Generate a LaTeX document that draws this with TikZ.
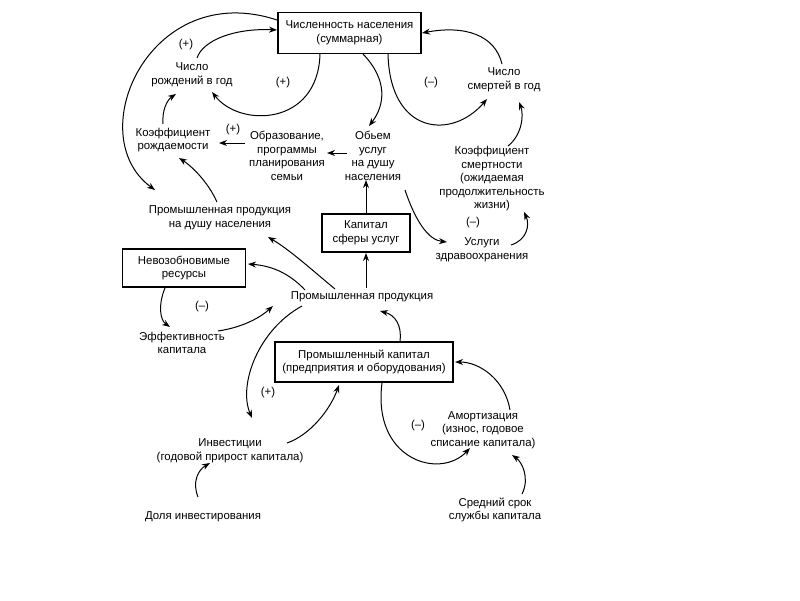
\documentclass[tikz,border=0pt]{standalone}
\usepackage{fontspec}
\setmainfont{Liberation Sans}
\usetikzlibrary{calc,arrows.meta}
\begin{document}
\begin{tikzpicture}[x=1pt,y=-1pt,
  txt/.style={align=center,font=\fontsize{11.4}{13.5}\selectfont,inner sep=1pt},
  boxn/.style={txt,draw,line width=1.2pt,inner sep=0pt},
  arr/.style={line width=1pt,-{Stealth[length=8pt,width=6pt]}},
  sign/.style={font=\fontsize{11.4}{13}\selectfont,inner sep=0pt}]
\useasboundingbox[fill=white] (0,0) rectangle (800,600);

% nodes
\node[boxn,minimum width=143pt,minimum height=41pt] (pop) at (349.5,33) {Численность населения\\(суммарная)};
\node[txt] (births) at (192,75) {Число\\рождений в год};
\node[txt] (deaths) at (504,80) {Число\\смертей в год};
\node[txt] (bcoef) at (173,140) {Коэффициент\\рождаемости};
\node[txt] (educ) at (287,156) {Образование,\\программы\\планирования\\семьи};
\node[txt] (serv) at (373,156) {Обьем\\услуг\\на душу\\населения};
\node[txt] (dcoef) at (492,179) {Коэффициент\\смертности\\(ожидаемая\\продолжительность\\жизни)};
\node[txt] (prodpc) at (220,218) {Промышленная продукция\\на душу населения};
\node[boxn,minimum width=88pt,minimum height=38pt] (capserv) at (366,233) {Капитал\\сферы услуг};
\node[txt] (health) at (482,250) {Услуги\\здравоохранения};
\node[boxn,minimum width=123pt,minimum height=38pt] (nonren) at (184,268) {Невозобновимые\\ресурсы};
\node[txt] (prod) at (362,297) {Промышленная продукция};
\node[txt] (eff) at (182,343) {Эффективность\\капитала};
\node[boxn,minimum width=178pt,minimum height=40pt] (capind) at (364,362) {Промышленный капитал\\(предприятия и оборудования)};
\node[txt] (amort) at (483,430) {Амортизация\\(износ, годовое\\списание капитала)};
\node[txt] (invest) at (230,451) {Инвестиции\\(годовой прирост капитала)};
\node[txt] (share) at (203,517) {Доля инвестирования};
\node[txt] (life) at (495,510) {Средний срок\\службы капитала};

% signs
\node[sign] (s1) at (186,45) {(+)};
\node[sign] (s2) at (283,83) {(+)};
\node[sign] (s3) at (431,83) {(--)};
\node[sign] (s4) at (233,130) {(+)};
\node[sign] (s5) at (473,223) {(--)};
\node[sign] (s6) at (202,307) {(--)};
\node[sign] (s7) at (268,393) {(+)};
\node[sign] (s8) at (418,426) {(--)};

% connectors
\draw[arr] ($(births)+(5,-17)$) .. controls (203,40) and (235,28) .. ($(pop)+(-72.5,-3)$);
\draw[arr] ($(pop)+(-29.5,21)$) .. controls (318,126) and (240,128) .. ($(births)+(20,17)$);
\draw[arr] ($(pop)+(13.5,21)$) .. controls (388,80) and (385,105) .. ($(serv)+(-4,-30)$);
\draw[arr] ($(pop)+(38.5,21)$) .. controls (390,135) and (452,140) .. ($(deaths)+(-17,19)$);
\draw[arr] ($(deaths)+(-2,-16)$) .. controls (495,35) and (465,25) .. ($(pop)+(72.5,0)$);
\draw[arr] ($(dcoef)+(16,-33)$) .. controls (522,135) and (524,115) .. ($(deaths)+(15,22)$);
\draw[arr] ($(pop)+(-72.5,-13)$) .. controls (150,-22) and (80,135) .. ($(prodpc)+(-65,-28)$);
\draw[arr] ($(bcoef)+(-10,-16)$) .. controls (162,110) and (167,100) .. ($(births)+(-16,19)$);
\draw[arr] ($(educ)+(-42,-13)$) -- ($(bcoef)+(46,3)$);
\draw[arr] ($(serv)+(-26,-3)$) -- ($(educ)+(40,-3)$);
\draw[arr] ($(prodpc)+(-3,-16)$) .. controls (207,180) and (190,165) .. ($(bcoef)+(6,18)$);
\draw[arr] ($(serv)+(32,34)$) .. controls (415,220) and (428,240) .. ($(health)+(-35,-8)$);
\draw[arr] ($(health)+(29,-5)$) .. controls (527,240) and (530,225) .. ($(dcoef)+(32,33)$);
\draw[arr] ($(capserv)+(0,-19)$) -- ($(serv)+(-7,24)$);
\draw[arr] ($(prod)+(4,-9)$) -- ($(capserv)+(0,20)$);
\draw[arr] ($(prod)+(-27,-8)$) .. controls (312,270) and (290,250) .. ($(prodpc)+(48,19)$);
\draw[arr] ($(prod)+(-57,-7)$) .. controls (292,276) and (275,266) .. ($(nonren)+(64,-4)$);
\draw[arr] ($(nonren)+(-19,20)$) .. controls (158,305) and (160,320) .. ($(eff)+(-12,-16)$);
\draw[arr] ($(eff)+(36,-12)$) .. controls (245,327) and (262,316) .. ($(prod)+(-89,9)$);
\draw[arr] ($(prod)+(-60,9)$) .. controls (258,330) and (238,385) .. ($(invest)+(22,-33)$);
\draw[arr] ($(capind)+(36,-21)$) .. controls (402,325) and (395,315) .. ($(prod)+(18,14)$);
\draw[arr] ($(invest)+(57,-8)$) .. controls (310,435) and (330,410) .. ($(capind)+(-25,23)$);
\draw[arr] ($(capind)+(18,21)$) .. controls (372,460) and (440,480) .. ($(amort)+(-13,18)$);
\draw[arr] ($(amort)+(27,-20)$) .. controls (505,380) and (480,362) .. ($(capind)+(91,0)$);
\draw[arr] ($(share)+(-5,-20)$) .. controls (192,482) and (198,470) .. ($(invest)+(-20,12)$);
\draw[arr] ($(life)+(27,-16)$) .. controls (530,478) and (522,462) .. ($(amort)+(29,25)$);
\end{tikzpicture}
\end{document}
